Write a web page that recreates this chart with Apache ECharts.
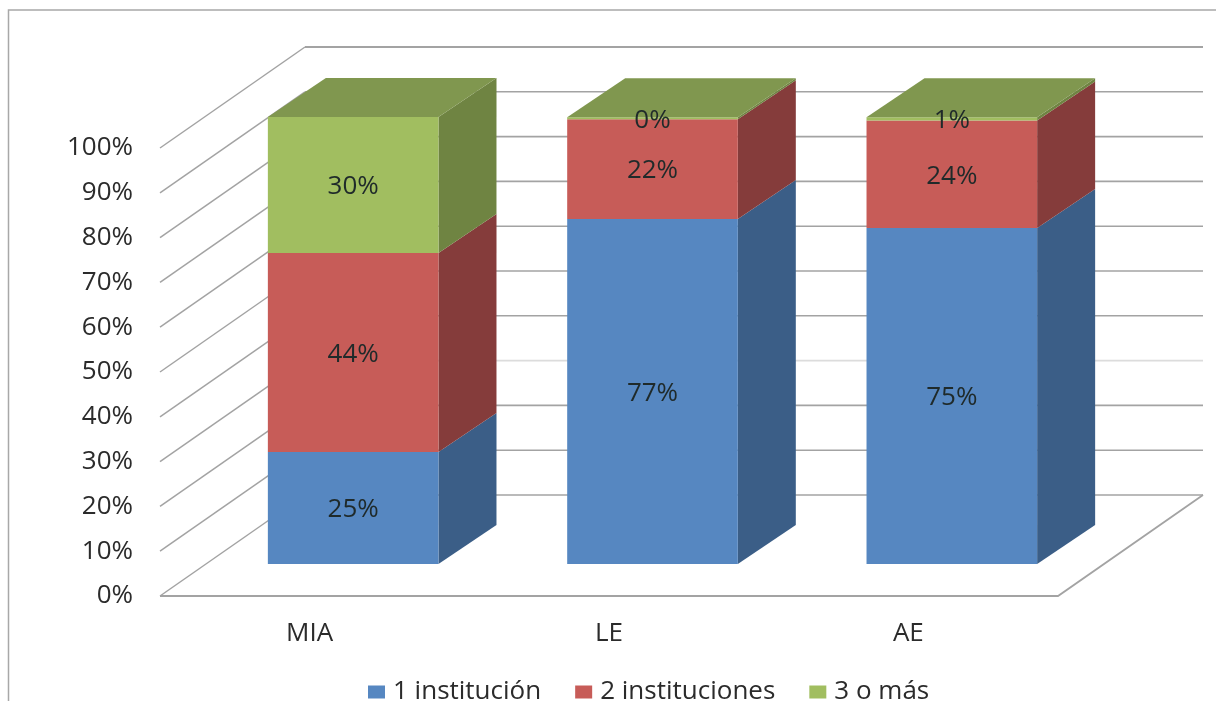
<!DOCTYPE html>
<html>
<head>
<meta charset="utf-8">
<style>html,body{margin:0;padding:0;background:#fff;overflow:hidden}#c{width:1216px;height:701px}</style>
<script src="https://cdn.jsdelivr.net/npm/echarts@6/dist/echarts.min.js"></script>
</head>
<body>
<div id="c"></div>
<script>
const categories = ['MIA', 'LE', 'AE'];
const ticks = [0, 10, 20, 30, 40, 50, 60, 70, 80, 90, 100];
const unaInstitucion = [25.0, 77.0, 75.0];
const dosInstituciones = [44.4, 22.3, 24.0];
const tresOMas = [30.4, 0.4, 0.7];
const seriesNames = ['1 institución', '2 instituciones', '3 o más'];

const FONT = '"Open Sans", "Noto Sans", sans-serif';
const WALL = [145, -101];
const BAR_OFFSET = [43.5, -32];
const BAR_DEPTH = [58, -39];
const BAR_RATIO = 0.57;
const LABEL_DY = 2;
const GRID_COLOR = '#a3a3a3';

const palette = [
  { front: '#5687c1', side: '#3b5e87', top: '#4a74a6', name: seriesNames[0], vals: unaInstitucion },
  { front: '#c75c58', side: '#853c3b', top: '#a44d4a', name: seriesNames[1], vals: dosInstituciones },
  { front: '#a1be60', side: '#6f8442', top: '#80974f', name: seriesNames[2], vals: tresOMas }
];

function wallItem(params, api) {
  const v = api.value(0);
  const cs = params.coordSys;
  const y = api.coord([0, v])[1];
  const x0 = cs.x;
  const x1 = cs.x + cs.width;
  const lw = v === 100 ? 2.2 : 1.6;
  const children = [{
    type: 'line',
    shape: { x1: x0, y1: y, x2: x0 + WALL[0], y2: y + WALL[1] },
    style: { stroke: GRID_COLOR, lineWidth: 1.5 }
  }, {
    type: 'line',
    shape: { x1: x0 + WALL[0], y1: y + WALL[1], x2: x1 + WALL[0], y2: y + WALL[1] },
    style: { stroke: v === 30 ? '#dcdcdc' : GRID_COLOR, lineWidth: lw }
  }];
  if (v === 0) {
    children.push({
      type: 'polyline',
      shape: { points: [[x0, y], [x1, y], [x1 + WALL[0], y + WALL[1]]] },
      style: { stroke: GRID_COLOR, lineWidth: 1.8, fill: null }
    });
  }
  return { type: 'group', children };
}

function barSeries(idx) {
  const p = palette[idx];
  const data = categories.map((c, i) => {
    let base = 0;
    for (let k = 0; k < idx; k++) base += palette[k].vals[i];
    return [i, base, base + p.vals[i], p.vals[i]];
  });
  return {
    name: p.name,
    type: 'custom',
    z: 3 + idx,
    itemStyle: { color: p.front },
    encode: { x: 0, y: [1, 2] },
    data,
    renderItem(params, api) {
      const cat = api.value(0);
      const lo = api.coord([cat, api.value(1)]);
      const hi = api.coord([cat, api.value(2)]);
      const w = api.size([1, 0])[0] * BAR_RATIO;
      const xl = lo[0] + BAR_OFFSET[0] - w / 2;
      const xr = xl + w;
      const yb = lo[1] + BAR_OFFSET[1];
      const yt = hi[1] + BAR_OFFSET[1];
      const dx = BAR_DEPTH[0], dy = BAR_DEPTH[1];
      const children = [
        { type: 'polygon', shape: { points: [[xr, yb], [xr + dx, yb + dy], [xr + dx, yt + dy], [xr, yt]] }, style: { fill: p.side } },
        { type: 'rect', shape: { x: xl, y: yt, width: w, height: yb - yt }, style: { fill: p.front } }
      ];
      if (idx === palette.length - 1) {
        children.push({ type: 'polygon', shape: { points: [[xl, yt], [xl + dx, yt + dy], [xr + dx, yt + dy], [xr, yt]] }, style: { fill: p.top } });
      }
      children.push({
        type: 'text',
        z2: 20,
        style: {
          x: (xl + xr) / 2, y: (yb + yt) / 2 + LABEL_DY,
          text: Math.round(api.value(3)) + '%',
          fill: '#1f2a2a', font: '26px ' + FONT,
          align: 'center', verticalAlign: 'middle'
        }
      });
      return { type: 'group', children };
    }
  };
}

const chart = echarts.init(document.getElementById('c'), null, { renderer: 'canvas' });
chart.setOption({
  animation: false,
  backgroundColor: '#fff',
  graphic: [{
    type: 'polyline',
    shape: { points: [[8.5, 701], [8.5, 10], [1216, 10]] },
    style: { stroke: '#a8a8a8', lineWidth: 1.5, fill: null }
  }],
  grid: { left: 160, right: 158, top: 148, bottom: 105 },
  legend: {
    data: seriesNames,
    left: 363, top: 674,
    icon: 'rect', itemWidth: 17, itemHeight: 13, itemGap: 34,
    textStyle: { fontFamily: FONT, fontSize: 26, color: '#2b2b2b', padding: [0, 0, 0, 3] }
  },
  xAxis: {
    type: 'category', data: categories,
    axisLine: { show: false }, axisTick: { show: false },
    axisLabel: { fontFamily: FONT, fontSize: 26, color: '#2b2b2b', margin: 25 }
  },
  yAxis: {
    type: 'value', min: 0, max: 100, interval: 10,
    splitLine: { show: false }, axisLine: { show: false }, axisTick: { show: false },
    axisLabel: { formatter: '{value}%', fontFamily: FONT, fontSize: 26, color: '#2b2b2b', margin: 27 }
  },
  series: [
    { type: 'custom', z: 1, silent: true, data: ticks.map(t => [t]), encode: { y: 0 }, renderItem: wallItem, legendHoverLink: false },
    barSeries(0), barSeries(1), barSeries(2)
  ]
});
</script>
</body>
</html>
